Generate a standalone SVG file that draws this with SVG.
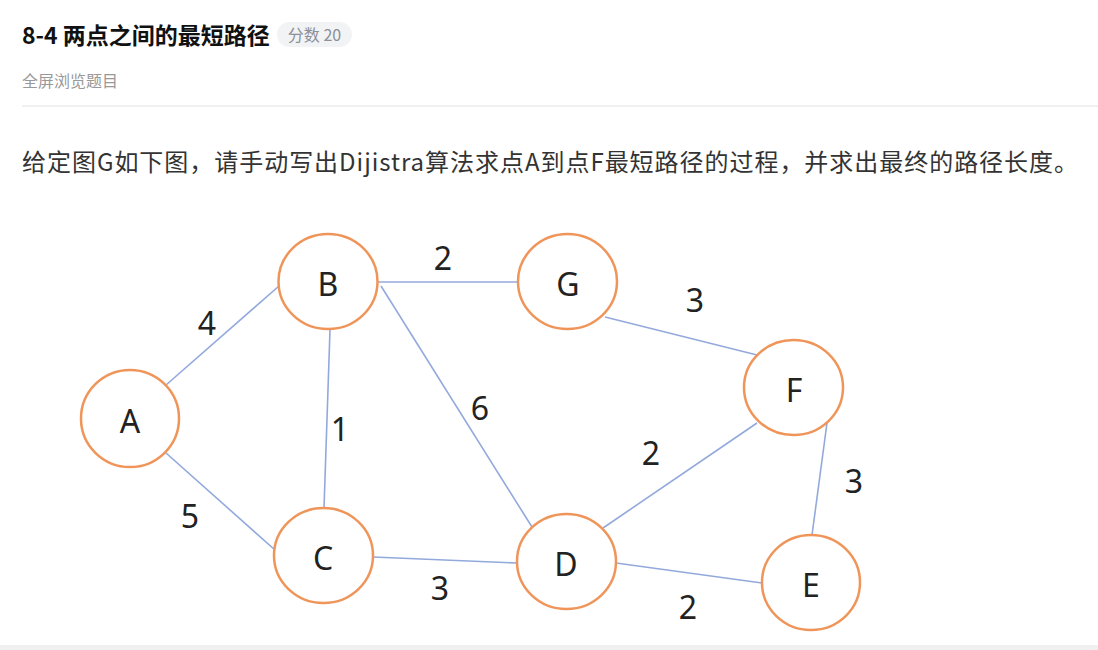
<svg xmlns="http://www.w3.org/2000/svg" width="1098" height="650" viewBox="0 0 1098 650">
<style>
.node ellipse{fill:#fff;stroke:#f0955a;stroke-width:2.5}
.node text,.lbl{font-family:"Noto Sans","Liberation Sans",sans-serif;font-size:32px;fill:#222;text-anchor:middle;dominant-baseline:central}
.edges line{stroke:#93a9dc;stroke-width:1.6}
.cjk{font-family:"Noto Sans CJK SC","Noto Sans",sans-serif}
</style>
<rect x="0" y="0" width="1098" height="650" fill="#fff"/>
<text class="cjk" x="22" y="44" font-size="23" font-weight="bold" fill="#111">8-4 两点之间的最短路径</text>
<rect x="277" y="22" width="75" height="25" rx="12.5" fill="#f2f3f5"/>
<text class="cjk" x="314.5" y="40.5" font-size="16" fill="#8b9099" text-anchor="middle">分数 20</text>
<text class="cjk" x="22" y="87" font-size="16" fill="#999">全屏浏览题目</text>
<line x1="22" y1="106" x2="1098" y2="106" stroke="#ebebeb" stroke-width="1.5"/>
<text class="cjk" x="22" y="171" font-size="24" fill="#333" textLength="1056" lengthAdjust="spacing">给定图G如下图，请手动写出Dijistra算法求点A到点F最短路径的过程，并求出最终的路径长度。</text>
<g class="edges">
<line x1="166" y1="385" x2="279" y2="286"/>
<line x1="166" y1="453" x2="275" y2="550"/>
<line x1="330" y1="330" x2="324" y2="508"/>
<line x1="378" y1="282" x2="518" y2="282"/>
<line x1="381" y1="286" x2="532" y2="527"/>
<line x1="605" y1="317" x2="757" y2="355"/>
<line x1="757" y1="423" x2="603" y2="528"/>
<line x1="827" y1="423" x2="812" y2="535"/>
<line x1="373" y1="557" x2="517" y2="563"/>
<line x1="616" y1="563" x2="762" y2="583"/>
</g>
<g id="labels">
<text class="lbl" x="207" y="322">4</text>
<text class="lbl" x="340" y="428">1</text>
<text class="lbl" x="443" y="257">2</text>
<text class="lbl" x="480" y="407">6</text>
<text class="lbl" x="695" y="299">3</text>
<text class="lbl" x="651" y="452">2</text>
<text class="lbl" x="854" y="480">3</text>
<text class="lbl" x="190" y="515">5</text>
<text class="lbl" x="440" y="587">3</text>
<text class="lbl" x="688" y="606">2</text>
</g>
<g id="A" class="node"><ellipse cx="130" cy="418.5" rx="49" ry="48.5"/><text x="130" y="420">A</text></g>
<g id="B" class="node"><ellipse cx="328" cy="281.5" rx="49.5" ry="47.5"/><text x="328" y="283">B</text></g>
<g id="G" class="node"><ellipse cx="567.5" cy="281.5" rx="49.5" ry="47.5"/><text x="568" y="283">G</text></g>
<g id="F" class="node"><ellipse cx="793.5" cy="387.5" rx="49.5" ry="47.5"/><text x="794" y="389">F</text></g>
<g id="C" class="node"><ellipse cx="323.5" cy="555.5" rx="49.5" ry="47.5"/><text x="323" y="557">C</text></g>
<g id="D" class="node"><ellipse cx="566.5" cy="561.5" rx="49.5" ry="47.5"/><text x="566" y="563">D</text></g>
<g id="E" class="node"><ellipse cx="811" cy="582.5" rx="49" ry="47.5"/><text x="811" y="584">E</text></g>
<rect x="0" y="645" width="1098" height="5" fill="#f0f0f0"/>
</svg>
